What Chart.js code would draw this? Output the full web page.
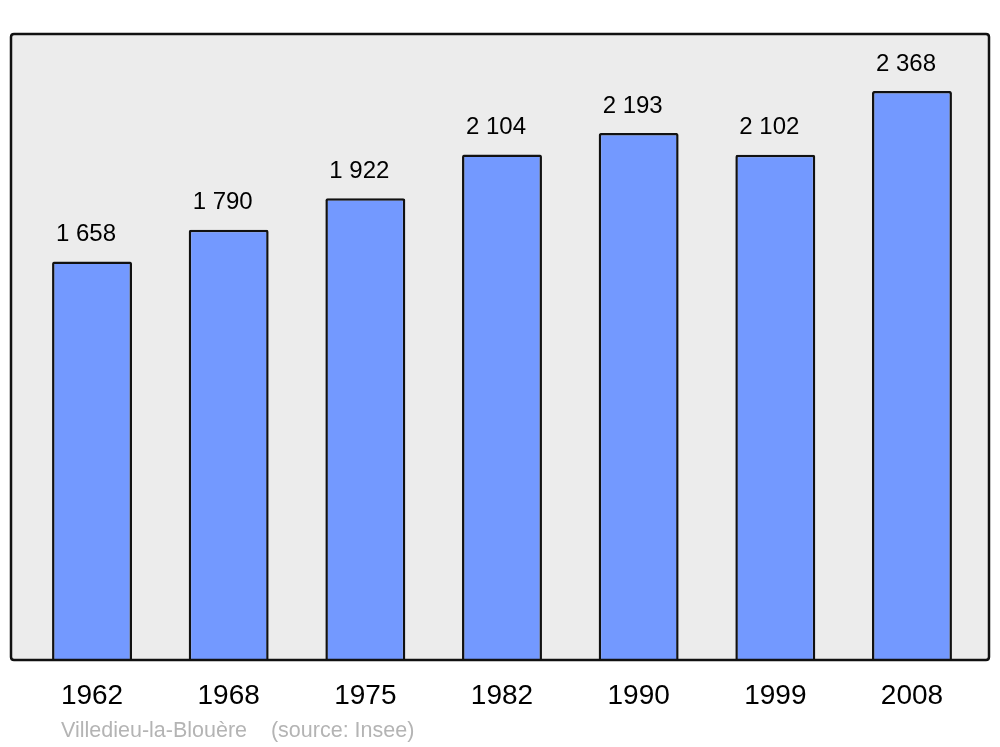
<!DOCTYPE html>
<html>
<head>
<meta charset="utf-8">
<script src="https://cdn.jsdelivr.net/npm/chart.js@4"></script>
<style>
  html, body { margin: 0; padding: 0; background: #fff; }
  #wrap { width: 1000px; height: 747px; }
</style>
</head>
<body>
<div id="wrap"><canvas id="popChart" width="1000" height="747"></canvas></div>
<script>
// population data
const years = ['1962', '1968', '1975', '1982', '1990', '1999', '2008'];
const population = [1658, 1790, 1922, 2104, 2193, 2102, 2368];
const yMax = 2605;
const footerText = 'Villedieu-la-Blouère    (source: Insee)';

function fmt(v) {
  return String(v).replace(/\B(?=(\d{3})+(?!\d))/g, ' ');
}

function roundRect(c, x, y, w, h, r) {
  c.beginPath();
  c.moveTo(x + r, y);
  c.lineTo(x + w - r, y);
  c.quadraticCurveTo(x + w, y, x + w, y + r);
  c.lineTo(x + w, y + h - r);
  c.quadraticCurveTo(x + w, y + h, x + w - r, y + h);
  c.lineTo(x + r, y + h);
  c.quadraticCurveTo(x, y + h, x, y + h - r);
  c.lineTo(x, y + r);
  c.quadraticCurveTo(x, y, x + r, y);
  c.closePath();
}

const frame = {
  id: 'frame',
  beforeDatasetsDraw(chart) {
    const c = chart.ctx, a = chart.chartArea;
    c.save();
    roundRect(c, 11, a.top, 978, a.bottom - a.top, 3);
    c.fillStyle = '#ececec';
    c.fill();
    c.restore();
  },
  afterDatasetsDraw(chart) {
    const c = chart.ctx, a = chart.chartArea;
    c.save();
    roundRect(c, 11, a.top, 978, a.bottom - a.top, 3);
    c.lineWidth = 2.5;
    c.strokeStyle = '#111';
    c.stroke();
    // value labels above the bars
    const meta = chart.getDatasetMeta(0);
    c.fillStyle = '#000';
    c.font = '24px "Liberation Sans", Arial, sans-serif';
    c.textAlign = 'center';
    c.textBaseline = 'middle';
    meta.data.forEach((bar, i) => {
      c.fillText(fmt(population[i]), bar.x - 6, bar.y - 27);
    });
    // footer
    c.fillStyle = '#b4b4b4';
    c.font = '21.5px "Liberation Sans", Arial, sans-serif';
    c.textAlign = 'left';
    c.textBaseline = 'alphabetic';
    c.fillText(footerText, 61, 737);
    c.restore();
  }
};

const ctx = document.getElementById('popChart').getContext('2d');
const popChart = new Chart(ctx, {
  type: 'bar',
  data: {
    labels: years,
    datasets: [{
      data: population,
      backgroundColor: '#7399ff',
      borderColor: '#111',
      borderWidth: 2.5,
      borderSkipped: 'bottom',
      borderRadius: { topLeft: 2, topRight: 2, bottomLeft: 0, bottomRight: 0 },
      barPercentage: 0.585,
      categoryPercentage: 1
    }]
  },
  options: {
    responsive: false,
    animation: false,
    layout: { padding: { left: 23.7, right: 19.7, top: 34, bottom: 0 } },
    plugins: { legend: { display: false }, tooltip: { enabled: false } },
    scales: {
      x: {
        grid: { display: false, drawTicks: false },
        border: { display: false },
        ticks: {
          color: '#000',
          padding: 19,
          font: { family: '"Liberation Sans", Arial, sans-serif', size: 28 }
        },
        afterFit(scale) { scale.height = 87; }
      },
      y: { display: false, min: 0, max: yMax }
    }
  },
  plugins: [frame]
});
</script>
</body>
</html>
